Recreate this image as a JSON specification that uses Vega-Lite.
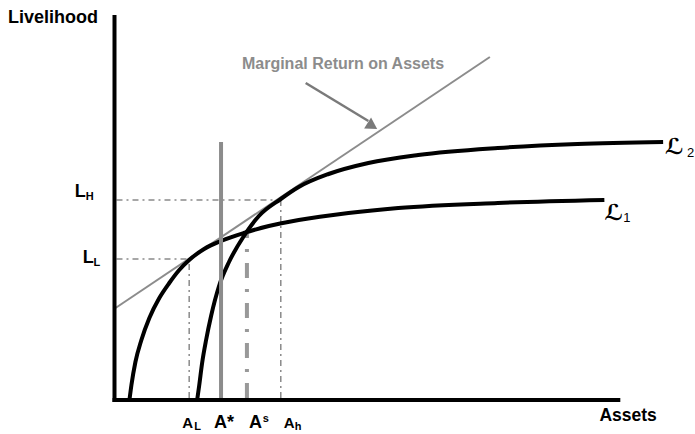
{
  "$schema": "https://vega.github.io/schema/vega-lite/v6.json",
  "width": 695,
  "height": 434,
  "autosize": {"type": "fit", "contains": "padding"},
  "padding": 0,
  "background": "white",
  "config": {"view": {"stroke": null}},
  "datasets": {
    "curves": [
      {"curve": "L1", "X": 15, "Y": 0}, {"curve": "L1", "X": 17, "Y": 15}, {"curve": "L1", "X": 21, "Y": 38},
      {"curve": "L1", "X": 27, "Y": 60}, {"curve": "L1", "X": 35, "Y": 82}, {"curve": "L1", "X": 45, "Y": 102},
      {"curve": "L1", "X": 55, "Y": 117}, {"curve": "L1", "X": 65, "Y": 130}, {"curve": "L1", "X": 75, "Y": 140},
      {"curve": "L1", "X": 90, "Y": 151}, {"curve": "L1", "X": 107, "Y": 159}, {"curve": "L1", "X": 130, "Y": 167},
      {"curve": "L1", "X": 155, "Y": 174}, {"curve": "L1", "X": 185, "Y": 180}, {"curve": "L1", "X": 235, "Y": 187},
      {"curve": "L1", "X": 285, "Y": 192}, {"curve": "L1", "X": 385, "Y": 197}, {"curve": "L1", "X": 492, "Y": 200},
      {"curve": "L2", "X": 83, "Y": 0}, {"curve": "L2", "X": 85, "Y": 14}, {"curve": "L2", "X": 88, "Y": 37},
      {"curve": "L2", "X": 92, "Y": 60}, {"curve": "L2", "X": 97, "Y": 84}, {"curve": "L2", "X": 105, "Y": 114},
      {"curve": "L2", "X": 115, "Y": 138}, {"curve": "L2", "X": 130, "Y": 164}, {"curve": "L2", "X": 145, "Y": 184},
      {"curve": "L2", "X": 167, "Y": 201}, {"curve": "L2", "X": 185, "Y": 213}, {"curve": "L2", "X": 215, "Y": 226},
      {"curve": "L2", "X": 255, "Y": 237}, {"curve": "L2", "X": 305, "Y": 245}, {"curve": "L2", "X": 385, "Y": 252},
      {"curve": "L2", "X": 465, "Y": 256}, {"curve": "L2", "X": 551, "Y": 258}
    ],
    "segments": [
      {"kind": "axis", "X": 0, "Y": -2, "X2": 0, "Y2": 385},
      {"kind": "axis", "X": -2, "Y": 0, "X2": 508, "Y2": 0},
      {"kind": "astar", "X": 107, "Y": 0, "X2": 107, "Y2": 258},
      {"kind": "as", "X": 133, "Y": 2, "X2": 133, "Y2": 166},
      {"kind": "guide", "X": 2, "Y": 200, "X2": 167, "Y2": 200},
      {"kind": "guide", "X": 167, "Y": 2, "X2": 167, "Y2": 200},
      {"kind": "guide", "X": 2, "Y": 141, "X2": 75, "Y2": 141},
      {"kind": "guide", "X": 75, "Y": 2, "X2": 75, "Y2": 141},
      {"kind": "mra", "X": 1, "Y": 92, "X2": 377, "Y2": 343},
      {"kind": "arrow", "X": 192, "Y": 317, "X2": 255, "Y2": 279}
    ],
    "heads": [
      {"X": 259, "Y": 274}
    ],
    "texts": [
      {"role": "title", "label": "Livelihood", "X": -107, "Y": 377},
      {"role": "axisname", "label": "Assets", "X": 487, "Y": -21},
      {"role": "annotation", "label": "Marginal Return on Assets", "X": 128, "Y": 331},
      {"role": "biglabel", "label": "L", "X": -40, "Y": 203},
      {"role": "sub", "label": "H", "X": -29, "Y": 200},
      {"role": "biglabel", "label": "L", "X": -32, "Y": 137},
      {"role": "sub", "label": "L", "X": -21, "Y": 134},
      {"role": "smallA", "label": "A", "X": 68, "Y": -28},
      {"role": "sub", "label": "L", "X": 80, "Y": -30},
      {"role": "bigA", "label": "A*", "X": 100, "Y": -28},
      {"role": "bigA", "label": "A", "X": 135, "Y": -28},
      {"role": "sub", "label": "s", "X": 149, "Y": -22},
      {"role": "smallA", "label": "A", "X": 170, "Y": -28},
      {"role": "sub", "label": "h", "X": 181, "Y": -30},
      {"role": "script", "label": "ℒ", "X": 553, "Y": 246},
      {"role": "scriptsub", "label": "2", "X": 575, "Y": 243},
      {"role": "script", "label": "ℒ", "X": 492, "Y": 180},
      {"role": "scriptsub", "label": "1", "X": 511, "Y": 178}
    ]
  },
  "encoding": {
    "x": {"field": "X", "type": "quantitative", "scale": {"domain": [-115, 580], "nice": false, "zero": false}, "axis": null},
    "y": {"field": "Y", "type": "quantitative", "scale": {"domain": [-34, 400], "nice": false, "zero": false}, "axis": null}
  },
  "layer": [
    {
      "data": {"name": "segments"},
      "transform": [{"filter": "datum.kind === 'guide'"}],
      "mark": {"type": "rule", "color": "#8a8a8a", "strokeWidth": 1.5, "strokeDash": [6, 4, 2, 4]},
      "encoding": {"x2": {"field": "X2"}, "y2": {"field": "Y2"}}
    },
    {
      "data": {"name": "segments"},
      "transform": [{"filter": "datum.kind === 'as'"}],
      "mark": {"type": "rule", "color": "#999999", "strokeWidth": 4, "strokeDash": [15, 11, 3, 11]},
      "encoding": {"x2": {"field": "X2"}, "y2": {"field": "Y2"}}
    },
    {
      "data": {"name": "segments"},
      "transform": [{"filter": "datum.kind === 'mra'"}],
      "mark": {"type": "rule", "color": "#8c8c8c", "strokeWidth": 2},
      "encoding": {"x2": {"field": "X2"}, "y2": {"field": "Y2"}}
    },
    {
      "data": {"name": "curves"},
      "mark": {"type": "line", "color": "black", "strokeWidth": 4, "strokeCap": "butt", "interpolate": "monotone"},
      "encoding": {"detail": {"field": "curve"}}
    },
    {
      "data": {"name": "segments"},
      "transform": [{"filter": "datum.kind === 'astar'"}],
      "mark": {"type": "rule", "color": "#8c8c8c", "strokeWidth": 4},
      "encoding": {"x2": {"field": "X2"}, "y2": {"field": "Y2"}}
    },
    {
      "data": {"name": "segments"},
      "transform": [{"filter": "datum.kind === 'arrow'"}],
      "mark": {"type": "rule", "color": "#7a7a7a", "strokeWidth": 2.5},
      "encoding": {"x2": {"field": "X2"}, "y2": {"field": "Y2"}}
    },
    {
      "data": {"name": "heads"},
      "mark": {"type": "point", "shape": "triangle-up", "filled": true, "color": "#7a7a7a", "size": 170, "angle": 122, "opacity": 1},
      "encoding": {}
    },
    {
      "data": {"name": "segments"},
      "transform": [{"filter": "datum.kind === 'axis'"}],
      "mark": {"type": "rule", "color": "black", "strokeWidth": 4},
      "encoding": {"x2": {"field": "X2"}, "y2": {"field": "Y2"}}
    },
    {
      "data": {"name": "texts"},
      "transform": [{"filter": "datum.role === 'title'"}],
      "mark": {"type": "text", "font": "Liberation Sans", "fontWeight": "bold", "fontSize": 18, "align": "left", "baseline": "alphabetic", "color": "black"},
      "encoding": {"text": {"field": "label"}}
    },
    {
      "data": {"name": "texts"},
      "transform": [{"filter": "datum.role === 'axisname'"}],
      "mark": {"type": "text", "font": "Liberation Sans", "fontWeight": "bold", "fontSize": 17.5, "align": "left", "baseline": "alphabetic", "color": "black"},
      "encoding": {"text": {"field": "label"}}
    },
    {
      "data": {"name": "texts"},
      "transform": [{"filter": "datum.role === 'annotation'"}],
      "mark": {"type": "text", "font": "Liberation Sans", "fontWeight": "bold", "fontSize": 16, "align": "left", "baseline": "alphabetic", "color": "#8c8c8c"},
      "encoding": {"text": {"field": "label"}}
    },
    {
      "data": {"name": "texts"},
      "transform": [{"filter": "datum.role === 'biglabel'"}],
      "mark": {"type": "text", "font": "Liberation Sans", "fontWeight": "bold", "fontSize": 18, "align": "left", "baseline": "alphabetic", "color": "black"},
      "encoding": {"text": {"field": "label"}}
    },
    {
      "data": {"name": "texts"},
      "transform": [{"filter": "datum.role === 'bigA'"}],
      "mark": {"type": "text", "font": "Liberation Sans", "fontWeight": "bold", "fontSize": 18, "align": "left", "baseline": "alphabetic", "color": "black"},
      "encoding": {"text": {"field": "label"}}
    },
    {
      "data": {"name": "texts"},
      "transform": [{"filter": "datum.role === 'smallA'"}],
      "mark": {"type": "text", "font": "Liberation Sans", "fontWeight": "bold", "fontSize": 15, "align": "left", "baseline": "alphabetic", "color": "black"},
      "encoding": {"text": {"field": "label"}}
    },
    {
      "data": {"name": "texts"},
      "transform": [{"filter": "datum.role === 'sub'"}],
      "mark": {"type": "text", "font": "Liberation Sans", "fontWeight": "bold", "fontSize": 11, "align": "left", "baseline": "alphabetic", "color": "black"},
      "encoding": {"text": {"field": "label"}}
    },
    {
      "data": {"name": "texts"},
      "transform": [{"filter": "datum.role === 'script'"}],
      "mark": {"type": "text", "font": "DejaVu Sans", "fontWeight": "bold", "fontStyle": "italic", "fontSize": 22, "align": "left", "baseline": "alphabetic", "color": "black"},
      "encoding": {"text": {"field": "label"}}
    },
    {
      "data": {"name": "texts"},
      "transform": [{"filter": "datum.role === 'scriptsub'"}],
      "mark": {"type": "text", "font": "Liberation Sans", "fontSize": 13, "align": "left", "baseline": "alphabetic", "color": "black"},
      "encoding": {"text": {"field": "label"}}
    }
  ]
}
